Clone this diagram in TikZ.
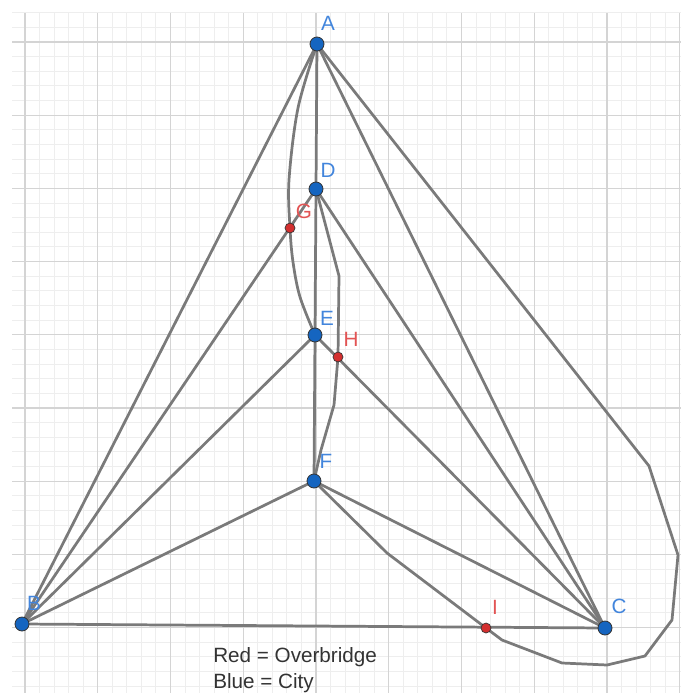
\documentclass[tikz,border=0pt]{standalone}
\usepackage{fontspec}
\setmainfont{Liberation Sans}
\pgfdeclarelayer{gridlayer}
\pgfdeclarelayer{edgelayer}
\pgfsetlayers{gridlayer,edgelayer,main}
\definecolor{edgegray}{RGB}{122,122,122}
\definecolor{cityfill}{RGB}{21,101,192}
\definecolor{bridgefill}{RGB}{211,47,47}
\definecolor{citytext}{RGB}{66,133,220}
\definecolor{bridgetext}{RGB}{226,84,84}
\definecolor{minorgrid}{RGB}{238,238,238}
\definecolor{majorgrid}{RGB}{212,212,212}
\tikzset{
  city/.style={circle,draw=black!80,line width=0.6pt,fill=cityfill,minimum size=10.5pt,inner sep=0pt},
  bridge/.style={circle,draw=black!80,line width=0.5pt,fill=bridgefill,minimum size=7.5pt,inner sep=0pt},
  citylab/.style={text=citytext,font=\fontsize{15.5}{18}\selectfont,inner sep=0pt},
  bridgelab/.style={text=bridgetext,font=\fontsize{15.5}{18}\selectfont,inner sep=0pt},
  road/.style={draw=edgegray,line width=2.05pt,line join=round,line cap=round},
  legend/.style={text=black!80,font=\fontsize{15.5}{18}\selectfont,inner sep=0pt,anchor=base west}
}
\begin{document}
\begin{tikzpicture}[x=0.75pt,y=-0.75pt]
\useasboundingbox (0,0) rectangle (681,693);
% cities
\node[city] (A) at (317,44) {};
\node[city] (D) at (316,189) {};
\node[city] (E) at (315,335) {};
\node[city] (F) at (314,481) {};
\node[city] (B) at (22,624) {};
\node[city] (C) at (605,628) {};
% overbridges
\node[bridge] (G) at (290,228) {};
\node[bridge] (H) at (338,357) {};
\node[bridge] (I) at (486,628) {};
% labels
\node[citylab] (lA) at (328,23) {A};
\node[citylab] (lD) at (328,170) {D};
\node[citylab] (lE) at (327,318) {E};
\node[citylab] (lF) at (326,461) {F};
\node[citylab] (lB) at (34,603) {B};
\node[citylab] (lC) at (619,606) {C};
\node[bridgelab] (lG) at (304,211) {G};
\node[bridgelab] (lH) at (351,339) {H};
\node[bridgelab] (lI) at (495,607) {I};
% legend
\node[legend] (leg1) at (213,662) {Red = Overbridge};
\node[legend] (leg2) at (213,688) {Blue = City};
% grid
\begin{pgfonlayer}{gridlayer}
  \foreach \i in {-1,...,45} {
    \pgfmathsetmacro{\gx}{25+72.75*\i/5}
    \ifdim\gx pt>11pt
      \draw[minorgrid,line width=0.75pt] (\gx,13) -- (\gx,693);
    \fi
  }
  \foreach \i in {-2,...,46} {
    \pgfmathsetmacro{\gy}{42+73.2*\i/5}
    \ifdim\gy pt>12pt
      \draw[minorgrid,line width=0.75pt] (12,\gy) -- (681,\gy);
    \fi
  }
  \foreach \i in {0,...,9} {
    \pgfmathsetmacro{\gx}{25+72.75*\i}
    \draw[majorgrid,line width=1pt] (\gx,13) -- (\gx,693);
  }
  \foreach \i in {0,...,9} {
    \pgfmathsetmacro{\gy}{42+73.2*\i}
    \draw[majorgrid,line width=1pt] (12,\gy) -- (681,\gy);
  }
\end{pgfonlayer}
% roads
\begin{pgfonlayer}{edgelayer}
  \draw[road] (A.center) -- (B.center);
  \draw[road] (A.center) -- (D.center);
  \draw[road] (A.center) -- (C.center);
  \draw[road] (D.center) -- (E.center);
  \draw[road] (E.center) -- (F.center);
  \draw[road] (B.center) -- (D.center);
  \draw[road] (B.center) -- (E.center);
  \draw[road] (B.center) -- (F.center);
  \draw[road] (B.center) -- (C.center);
  \draw[road] (D.center) -- (C.center);
  \draw[road] (E.center) -- (C.center);
  \draw[road] (F.center) -- (C.center);
  % curved road A -> G -> E
  \draw[road] plot[smooth,tension=0.55] coordinates {(A.center) (298,108) (289,180) (G.center) (293,262) (300,297) (E.center)};
  % road D -> H -> F
  \draw[road] (D.center) -- (339,276) -- (H.center) -- (334,405) -- (321,450) -- (F.center);
  % road F -> I -> around C -> A
  \draw[road] (F.center) -- (387,553) -- (I.center) -- (502,640) -- (562,663) -- (607,665) -- (645,656) -- (672,620) -- (678,555) -- (649,466) -- (A.center);
\end{pgfonlayer}
\end{tikzpicture}
\end{document}
